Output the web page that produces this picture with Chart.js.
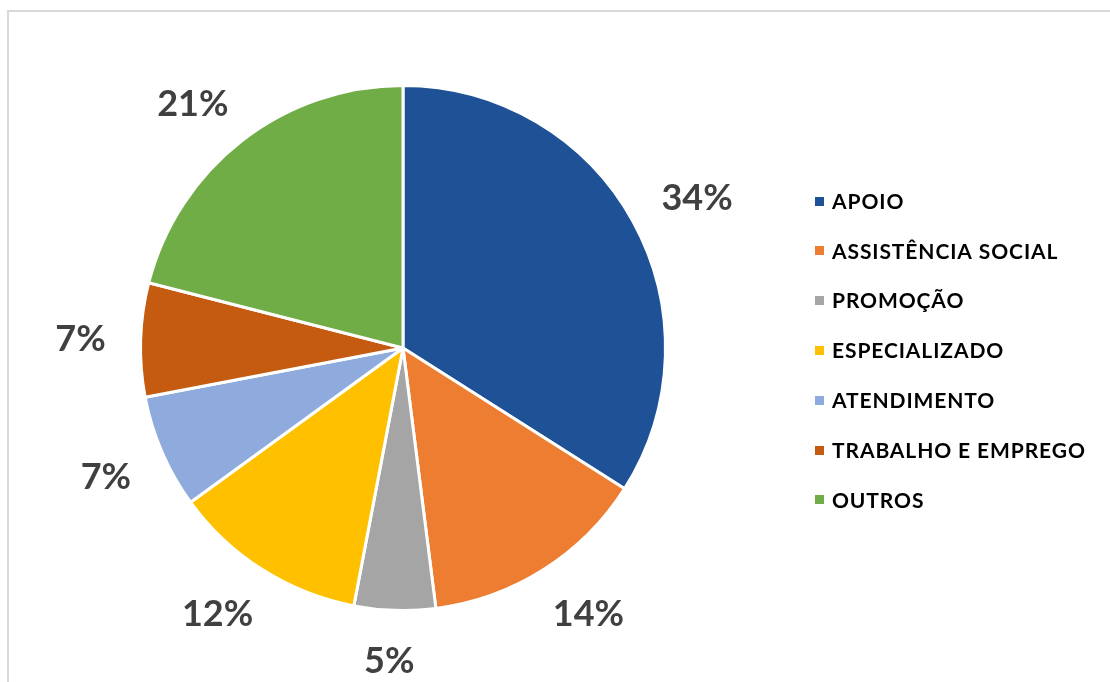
<!DOCTYPE html>
<html>
<head>
<meta charset="utf-8">
<script src="https://cdn.jsdelivr.net/npm/chart.js@4"></script>
<style>
  html, body { margin: 0; padding: 0; background: #ffffff; overflow: hidden; }
  #wrap { position: relative; width: 1110px; height: 682px; }
  #frame {
    position: absolute; left: 7px; top: 10px; width: 1200px; height: 800px;
    border-left: 2px solid #d9d9d9; border-top: 2px solid #d9d9d9;
  }
  canvas { position: absolute; left: 0; top: 0; }
</style>
</head>
<body>
<div id="wrap">
  <div id="frame"></div>
  <canvas id="chart" width="1110" height="682"></canvas>
</div>
<script>
// Categories and their shares (%)
const categories = ['APOIO', 'ASSISTÊNCIA SOCIAL', 'PROMOÇÃO', 'ESPECIALIZADO', 'ATENDIMENTO', 'TRABALHO E EMPREGO', 'OUTROS'];
const shares = [34, 14, 5, 12, 7, 7, 21];
const sliceColors = ['#1F5196', '#ED7D31', '#A5A5A5', '#FFC000', '#8FAADC', '#C55A11', '#70AD47'];

// Percentage labels placed just outside each slice
const outsideLabels = {
  id: 'outsideLabels',
  afterDatasetsDraw(chart) {
    const ctx = chart.ctx;
    const meta = chart.getDatasetMeta(0);
    const values = chart.data.datasets[0].data;
    ctx.save();
    ctx.font = 'bold 36px Lato';
    ctx.fillStyle = '#404040';
    ctx.textAlign = 'center';
    ctx.textBaseline = 'middle';
    const gap = 35, h = 26;
    const soft = t => Math.sign(t) * Math.sqrt(Math.abs(t));
    meta.data.forEach((arc, i) => {
      const p = arc.getProps(['x', 'y', 'startAngle', 'endAngle', 'outerRadius'], true);
      const mid = (p.startAngle + p.endAngle) / 2;
      const dx = Math.cos(mid), dy = Math.sin(mid);
      const text = values[i] + '%';
      const w = ctx.measureText(text).width;
      const x = p.x + dx * (p.outerRadius + gap) + soft(dx) * w / 2;
      const y = p.y + dy * (p.outerRadius + gap) + soft(dy) * h / 2;
      ctx.fillText(text, x, y + 3);
    });
    ctx.restore();
  }
};

// Legend column on the right
const sideLegend = {
  id: 'sideLegend',
  afterDraw(chart) {
    const ctx = chart.ctx;
    const ds = chart.data.datasets[0];
    ctx.save();
    ctx.font = 'bold 21px Lato';
    ctx.letterSpacing = '0.9px';
    ctx.textAlign = 'left';
    ctx.textBaseline = 'middle';
    const top = 201, step = 49.8, boxX = 815, box = 9, textX = 832;
    chart.data.labels.forEach((label, i) => {
      const y = top + i * step;
      ctx.fillStyle = ds.backgroundColor[i];
      ctx.fillRect(boxX, Math.round(y - box / 2), box, box);
      ctx.fillStyle = '#000000';
      ctx.fillText(label, textX, y + 1);
    });
    ctx.restore();
  }
};

new Chart(document.getElementById('chart'), {
  type: 'pie',
  data: {
    labels: categories,
    datasets: [{
      data: shares,
      backgroundColor: sliceColors,
      borderColor: '#ffffff',
      borderWidth: 3
    }]
  },
  options: {
    responsive: false,
    devicePixelRatio: 1,
    animation: false,
    layout: { padding: { left: 139, right: 443, top: 84, bottom: 70 } },
    plugins: {
      legend: { display: false },
      tooltip: { enabled: false }
    }
  },
  plugins: [outsideLabels, sideLegend]
});
</script>
</body>
</html>
